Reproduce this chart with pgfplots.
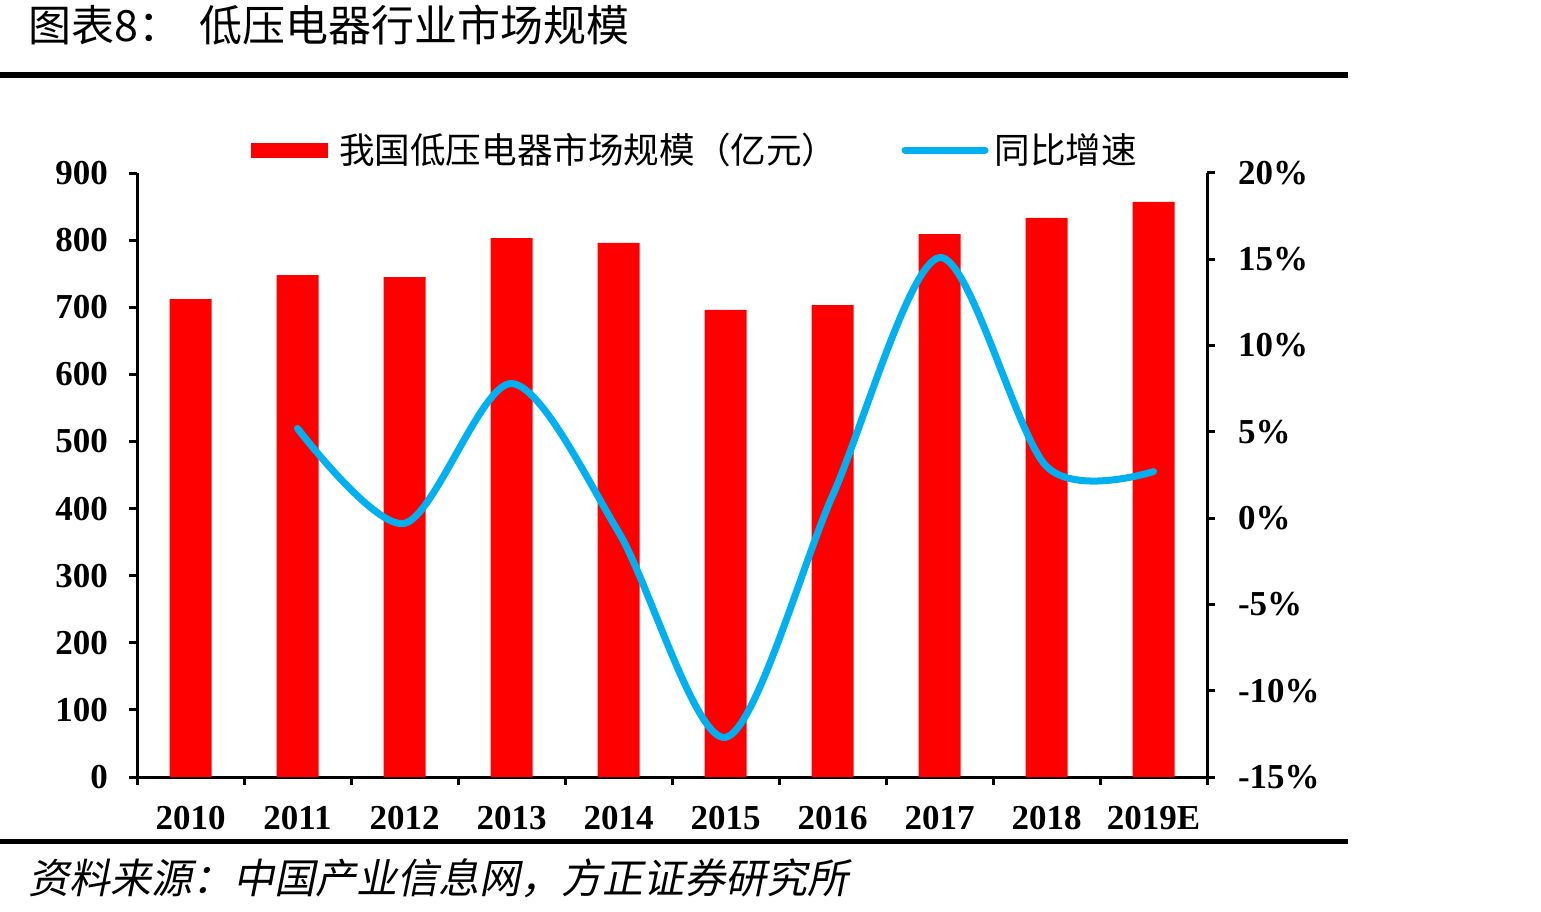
\documentclass[border=0pt]{standalone}
\usepackage{pgfplots}
\pgfplotsset{compat=1.18}
\usepackage{fontspec}
\setmainfont{Liberation Serif}
\newfontfamily\cjk{Noto Sans CJK SC}
\newfontfamily\cjkit[FakeSlant=0.2]{Noto Sans CJK SC}
\definecolor{barred}{RGB}{255,0,0}
\definecolor{lineblue}{RGB}{0,176,240}

\pgfplotsset{
  base/.style={
    scale only axis, width=535bp, height=302bp,
    at={(68.5bp,-388.5bp)}, anchor=south west,
    xmin=-0.5, xmax=9.5,
    axis line style={line width=1.5bp, black},
    tick style={line width=1.5bp, black},
    major tick length=4bp,
    tick align=outside,
    ticklabel style={font=\bfseries\fontsize{17.5bp}{20bp}\selectfont},
  }
}

\begin{document}
\begin{tikzpicture}[x=1bp,y=1bp]
\path[use as bounding box] (0,0) rectangle (770.5,-456);
\node[anchor=west, inner sep=0, font=\cjk\fontsize{21.5bp}{24bp}\selectfont] at (14,-12.5) {图表8：\hspace{9bp}低压电器行业市场规模};
\draw[line width=3bp] (0,-37.5) -- (674,-37.5);
\draw[line width=2.5bp] (0,-420.5) -- (674,-420.5);
\node[anchor=west, inner sep=0, font=\cjkit\fontsize{20.5bp}{23bp}\selectfont] at (14,-439) {资料来源：中国产业信息网，方正证券研究所};

\begin{axis}[base,
  ymin=0, ymax=900,
  ytick={0,100,200,300,400,500,600,700,800,900},
  yticklabels={0,100,200,300,400,500,600,700,800,900},
  yticklabel style={xshift=-7bp},
  xticklabel style={yshift=-7bp},
  axis y line*=left, axis x line*=bottom,
  xtick={-0.5,0.5,1.5,2.5,3.5,4.5,5.5,6.5,7.5,8.5,9.5},
  x tick label as interval,
  xticklabels={2010,2011,2012,2013,2014,2015,2016,2017,2018,2019E},
]
\addplot[ybar, bar width=21bp, fill=barred, draw=none] coordinates {
(0,712) (1,748) (2,745) (3,803) (4,796) (5,696) (6,703) (7,809) (8,833) (9,857)};
\end{axis}

\begin{axis}[base,
  ymin=-15, ymax=20,
  ytick={-15,-10,-5,0,5,10,15,20},
  yticklabels={-15\%,-10\%,-5\%,0\%,5\%,10\%,15\%,20\%},
  yticklabel style={anchor=west, xshift=8bp},
  axis y line*=right, axis x line=none,
  legend style={at={(0.1065,1.038)}, anchor=west, draw=none, fill=none,
    inner sep=0pt, legend columns=2,
    font=\cjk\fontsize{17.8bp}{20bp}\selectfont,
    /tikz/every even column/.append style={column sep=30bp}},
]
\addlegendimage{legend image code/.code={\fill[barred] (0bp,-3.5bp) rectangle (38bp,3.5bp);}}
\addlegendentry{\hspace{3.5bp}我国低压电器市场规模（亿元）}
\addplot[lineblue, line width=3.5bp, smooth, line cap=round,
  legend image code/.code={\draw[lineblue, line width=3.5bp, line cap=round] (0bp,0bp) -- (40bp,0bp);}]
  coordinates {(1,5.2) (2,-0.3) (3,7.8) (4,-0.8) (5,-12.7) (6,1.3) (7,15.1) (8,3.0) (9,2.7)};
\addlegendentry{\hspace{1bp}同比增速}
\end{axis}
\end{tikzpicture}
\end{document}
